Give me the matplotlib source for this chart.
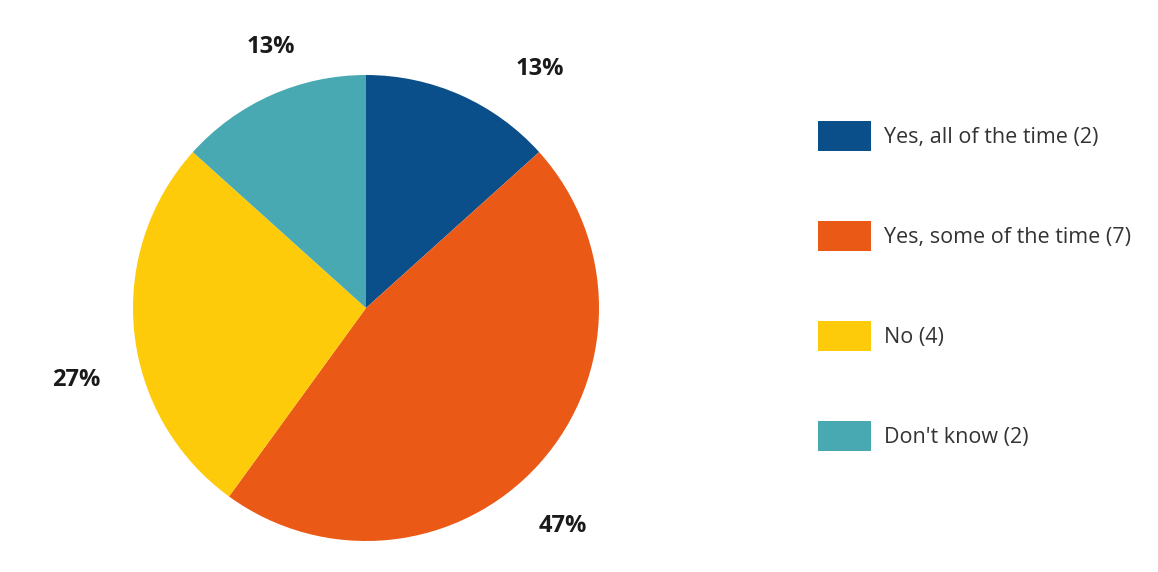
import matplotlib
matplotlib.use("Agg")
import matplotlib.pyplot as plt
from matplotlib.patches import Patch
import numpy as np

categories = ["Yes, all of the time (2)", "Yes, some of the time (7)", "No (4)", "Don't know (2)"]
counts = [2, 7, 4, 2]
pct_labels = ["13%", "47%", "27%", "13%"]
colors = ["#0B4F8A", "#EB5917", "#FECB0B", "#48A9B2"]

plt.rcParams['font.family'] = ['Open Sans', 'DejaVu Sans']

W, H = 1158, 572
fig = plt.figure(figsize=(W / 100, H / 100), dpi=100)
fig.patch.set_facecolor("white")

# pie axes: pixel box [133,599] x [75,541]
ax = fig.add_axes([133 / W, (H - 541) / H, 466 / W, 466 / H])
wedges, _ = ax.pie(counts, colors=colors, startangle=90, counterclock=False,
                   radius=1.0, wedgeprops=dict(linewidth=0))
ax.set_xlim(-1, 1)
ax.set_ylim(-1, 1)
ax.set_aspect("equal")
ax.set_axis_off()

# percentage labels placed outside the wedges (label offsets are styling)
ang_off = [-12, -6, 8, -4]
rad = [1.27, 1.26, 1.28, 1.19]
for w, lab, da, r in zip(wedges, pct_labels, ang_off, rad):
    mid = np.deg2rad((w.theta1 + w.theta2) / 2 + da)
    ax.text(r * np.cos(mid), r * np.sin(mid), lab, ha="center", va="center",
            fontsize=17, fontweight="bold", color="#1A1A1A", clip_on=False)

handles = [Patch(facecolor=c, edgecolor="none") for c in colors]
fs = 15.5
fs_px = fs * 100 / 72
hh = (30 * 0.72 / fs - 0.245) / 0.65
leg = fig.legend(handles, categories, loc="upper left",
                 bbox_to_anchor=(818 / W, 1 - 121 / H),
                 frameon=False, borderpad=0, borderaxespad=0,
                 handlelength=53 / fs_px, handleheight=hh,
                 handletextpad=13 / fs_px, labelspacing=70 / fs_px,
                 fontsize=fs, labelcolor="#333333")

fig.savefig("out.png", dpi=100, facecolor="white")
